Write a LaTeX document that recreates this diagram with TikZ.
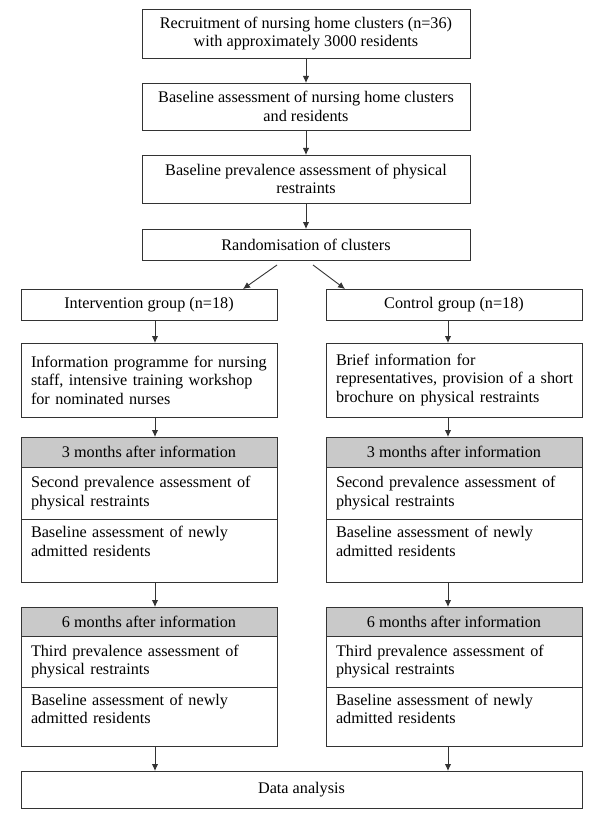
\documentclass[tikz,border=0pt]{standalone}
\usepackage{fontspec}
\setmainfont{Liberation Serif}
\usetikzlibrary{positioning,arrows.meta}
\definecolor{hdrgray}{gray}{0.79}

\begin{document}
\begin{tikzpicture}[x=1pt,y=1pt,
  every node/.style={draw=black!80,line width=0.9pt,outer sep=0pt,inner xsep=10pt,inner ysep=0pt,font=\fontsize{16.2}{18.5}\selectfont},
  arr/.style={-{Latex[length=7pt,width=6.5pt]},line width=0.9pt,draw=black!80}]
  \tikzstyle{mid} = [minimum width=328pt,align=center]
  \tikzstyle{grp} = [minimum width=256pt,minimum height=31pt]
  \tikzstyle{col} = [minimum width=256pt,text width=236pt,align=left]
  \tikzstyle{head} = [minimum width=256pt,fill=hdrgray]
  \useasboundingbox (0,0) rectangle (600,-829);
  \node (top_1) [mid,minimum height=49pt,anchor=north] at (306,-9) {Recruitment of nursing home clusters (n=36)\\with approximately 3000 residents};
  \node (top_2) [mid,minimum height=47pt,below=25pt of top_1] {Baseline assessment of nursing home clusters\\and residents};
  \node (top_3) [mid,minimum height=48pt,below=25pt of top_2] {Baseline prevalence assessment of physical\\restraints};
  \node (top_4) [mid,minimum height=31pt,below=26pt of top_3] {Randomisation of clusters};
  \node (int_1) [grp,anchor=north] at (149,-289) {Intervention group (n=18)};
  \node (int_2) [col,minimum height=74pt,below=23pt of int_1] {\mbox{Information programme for nursing}\\\mbox{staff, intensive training workshop}\\for nominated nurses};
  \node (int_3) [head,minimum height=30pt,below=20pt of int_2] {3 months after information};
  \node (int_4) [col,minimum height=52pt,below=0pt of int_3] {Second prevalence assessment of\\physical restraints};
  \node (int_5) [col,minimum height=63pt,text height=11pt,text depth=37pt,below=0pt of int_4] {Baseline assessment of newly\\admitted residents};
  \node (int_6) [head,minimum height=29pt,below=25pt of int_5] {6 months after information};
  \node (int_7) [col,minimum height=51pt,below=0pt of int_6] {Third prevalence assessment of\\physical restraints};
  \node (int_8) [col,minimum height=59pt,text height=11pt,text depth=34pt,below=0pt of int_7] {Baseline assessment of newly\\admitted residents};
  \node (ctl_1) [grp,anchor=north] at (454,-289) {Control group (n=18)};
  \node (ctl_2) [col,minimum height=74pt,below=23pt of ctl_1] {Brief information for\\\mbox{representatives, provision of a short}\\\mbox{brochure on physical restraints}};
  \node (ctl_3) [head,minimum height=30pt,below=20pt of ctl_2] {3 months after information};
  \node (ctl_4) [col,minimum height=52pt,below=0pt of ctl_3] {Second prevalence assessment of\\physical restraints};
  \node (ctl_5) [col,minimum height=63pt,text height=11pt,text depth=37pt,below=0pt of ctl_4] {Baseline assessment of newly\\admitted residents};
  \node (ctl_6) [head,minimum height=29pt,below=25pt of ctl_5] {6 months after information};
  \node (ctl_7) [col,minimum height=51pt,below=0pt of ctl_6] {Third prevalence assessment of\\physical restraints};
  \node (ctl_8) [col,minimum height=59pt,text height=11pt,text depth=34pt,below=0pt of ctl_7] {Baseline assessment of newly\\admitted residents};
  \node (data) [minimum width=561pt,minimum height=37pt,anchor=north] at (301.5,-771) {Data analysis};
  \coordinate (rand_l) at ([xshift=-29pt,yshift=-5pt]top_4.south);
  \coordinate (rand_r) at ([xshift=7pt,yshift=-5pt]top_4.south);
  \draw[arr] (top_1) -- (top_2);
  \draw[arr] (top_2) -- (top_3);
  \draw[arr] (top_3) -- (top_4);
  \draw[arr] (rand_l) -- ([xshift=94pt]int_1.north);
  \draw[arr] (rand_r) -- ([xshift=-109pt]ctl_1.north);
  \draw[arr] ([xshift=6pt]int_1.south) -- ([xshift=6pt]int_2.north);
  \draw[arr] ([xshift=6pt]int_2.south) -- ([xshift=6pt]int_3.north);
  \draw[arr] ([xshift=6pt]int_5.south) -- ([xshift=6pt]int_6.north);
  \draw[arr] ([xshift=6pt]int_8.south) -- ([xshift=6pt]int_8.south |- data.north);
  \draw[arr] ([xshift=-6pt]ctl_1.south) -- ([xshift=-6pt]ctl_2.north);
  \draw[arr] ([xshift=-6pt]ctl_2.south) -- ([xshift=-6pt]ctl_3.north);
  \draw[arr] ([xshift=-6pt]ctl_5.south) -- ([xshift=-6pt]ctl_6.north);
  \draw[arr] ([xshift=-6pt]ctl_8.south) -- ([xshift=-6pt]ctl_8.south |- data.north);
\end{tikzpicture}
\end{document}
